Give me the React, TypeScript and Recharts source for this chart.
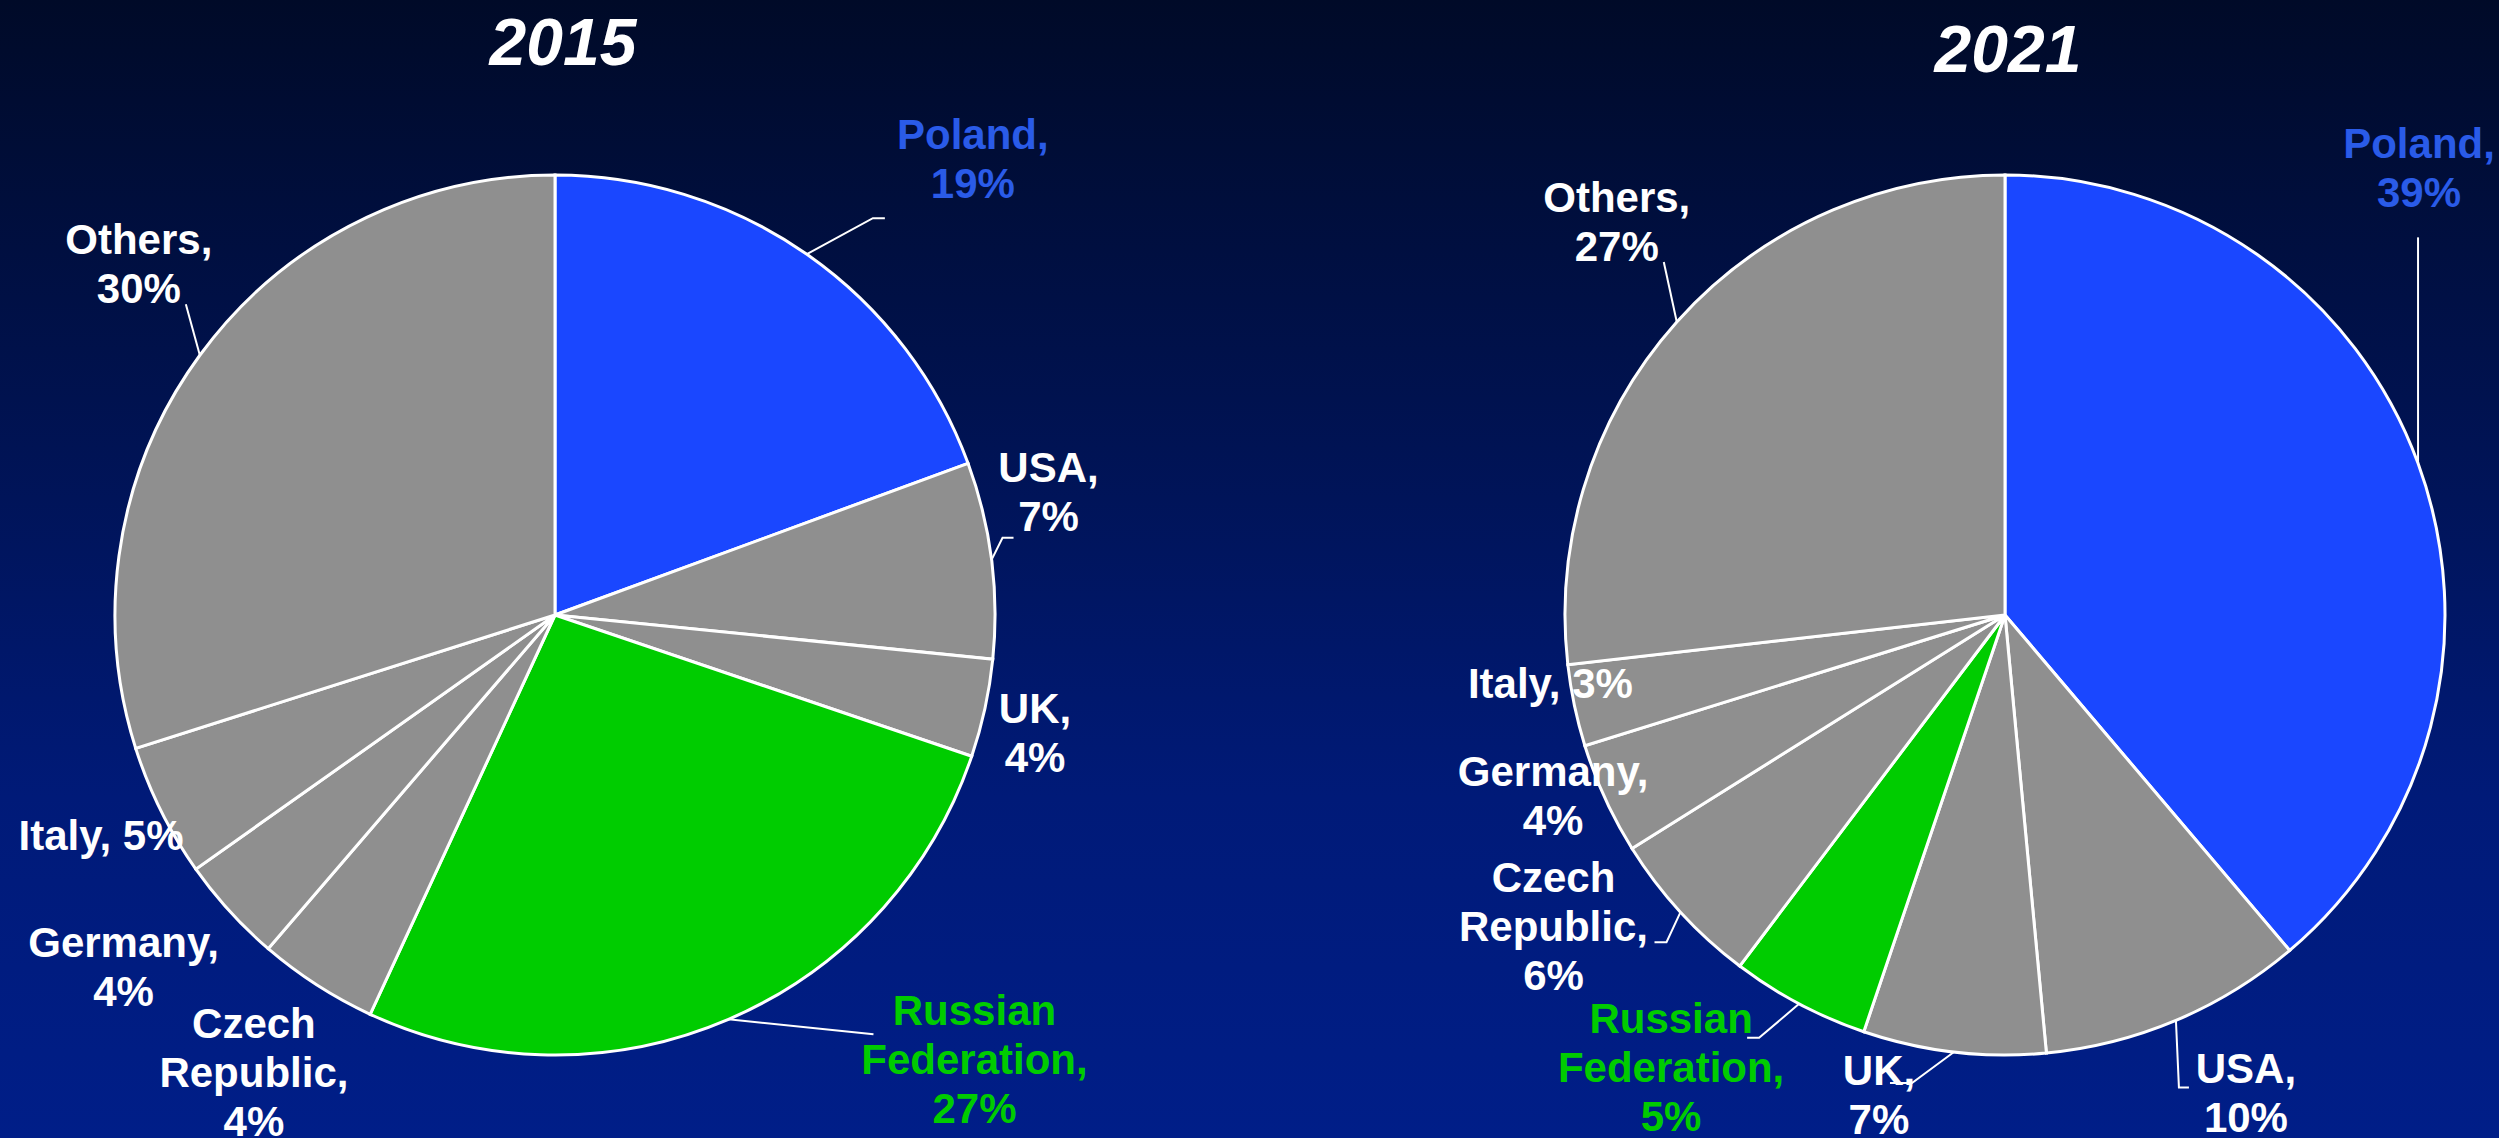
import React from "react";
import { PieChart, Pie, Cell } from "recharts";

const categories = ["Poland", "USA", "UK", "Russian Federation", "Czech Republic", "Germany", "Italy", "Others"];
const values2015 = [19.4, 7.2, 3.6, 26.7, 4.4, 3.9, 4.9, 29.9];
const values2021 = [38.8, 9.7, 6.7, 5.1, 5.8, 4.1, 3.0, 26.8];
const years = ["2015", "2021"];

const sliceColors = ["#1a47ff", "#8f8f8f", "#8f8f8f", "#00cc00", "#8f8f8f", "#8f8f8f", "#8f8f8f", "#8f8f8f"];
const labelColors = ["#2a5be8", "#ffffff", "#ffffff", "#00cc00", "#ffffff", "#ffffff", "#ffffff", "#ffffff"];

// label layout: offset of label (center x, first baseline) from slice edge point at mid-angle,
// words per line, and leader line points relative to edge point
type LabelLayout = { dx: number; dy: number; perLine: number[]; leader?: [number, number][] };

const layout2015: LabelLayout[] = [
  { dx: 166, dy: -105, perLine: [1, 1], leader: [[66, -36], [78, -36]] },
  { dx: 57, dy: -78, perLine: [1, 1], leader: [[11, -22], [22, -22]] },
  { dx: 50, dy: 15, perLine: [1, 1] },
  { dx: 246, dy: 6, perLine: [1, 1, 1], leader: [[145, 15]] },
  { dx: -63, dy: 53, perLine: [1, 1, 1] },
  { dx: -106, dy: 46, perLine: [1, 1] },
  { dx: -60, dy: 39, perLine: [2] },
  { dx: -61, dy: -101, perLine: [1, 1], leader: [[-14, -51]] },
];

const layout2021: LabelLayout[] = [
  { dx: 1, dy: -305, perLine: [1, 1], leader: [[0, -226]] },
  { dx: 70, dy: 63, perLine: [1, 1], leader: [[3, 67], [13, 67]] },
  { dx: -75, dy: 33, perLine: [1, 1], leader: [[-42, 31], [-64, 31]] },
  { dx: -128, dy: 29, perLine: [1, 1, 1], leader: [[-40, 34], [-52, 34]] },
  { dx: -127, dy: -20, perLine: [1, 1, 1], leader: [[-14, 30], [-26, 30]] },
  { dx: -52, dy: -13, perLine: [1, 1] },
  { dx: -24, dy: -8, perLine: [2] },
  { dx: -60, dy: -110, perLine: [1, 1], leader: [[-13, -60]] },
];

const FONT = "'Liberation Sans', Arial, sans-serif";
const LINE_H = 49;

const buildData = (values: number[]) =>
  categories.map((name, i) => ({ name, value: values[i] }));

const makeLabel = (layout: LabelLayout[]) => (props: any) => {
  const { cx, cy, midAngle, outerRadius, index, name, value } = props;
  const RAD = Math.PI / 180;
  const ex = cx + outerRadius * Math.cos(-midAngle * RAD);
  const ey = cy + outerRadius * Math.sin(-midAngle * RAD);
  const L = layout[index];
  const words = `${name}, ${Math.round(value)}%`.split(" ");
  const lines: string[] = [];
  let k = 0;
  L.perLine.forEach((n) => {
    lines.push(words.slice(k, k + n).join(" "));
    k += n;
  });
  const lx = ex + L.dx;
  const ly = ey + L.dy;
  const pts = L.leader ? [[0, 0], ...L.leader].map(([a, b]) => `${ex + a},${ey + b}`).join(" ") : null;
  return (
    <g key={`lbl-${index}`}>
      {pts && <polyline points={pts} fill="none" stroke="#ffffff" strokeWidth={2} />}
      {lines.map((t, j) => (
        <text
          key={j}
          x={lx}
          y={ly + j * LINE_H}
          textAnchor="middle"
          fontFamily={FONT}
          fontWeight="bold"
          fontSize={42}
          fill={labelColors[index]}
        >
          {t}
        </text>
      ))}
    </g>
  );
};

export default function App() {
  return (
    <div
      style={{
        position: "absolute",
        left: 0,
        top: 0,
        width: 2499,
        height: 1138,
        overflow: "hidden",
        background: "linear-gradient(to bottom, #000a28 0%, #00124f 35%, #001a78 70%, #001e88 100%)",
      }}
    >
      <PieChart width={2499} height={1138} margin={{ top: 0, right: 0, bottom: 0, left: 0 }}>
        <Pie
          data={buildData(values2015)}
          dataKey="value"
          nameKey="name"
          cx={555}
          cy={615}
          outerRadius={440}
          startAngle={90}
          endAngle={-270}
          stroke="#ffffff"
          strokeWidth={3}
          labelLine={false}
          label={makeLabel(layout2015)}
          isAnimationActive={false}
        >
          {categories.map((c, i) => (
            <Cell key={c} fill={sliceColors[i]} />
          ))}
        </Pie>
        <Pie
          data={buildData(values2021)}
          dataKey="value"
          nameKey="name"
          cx={2005}
          cy={615}
          outerRadius={440}
          startAngle={90}
          endAngle={-270}
          stroke="#ffffff"
          strokeWidth={3}
          labelLine={false}
          label={makeLabel(layout2021)}
          isAnimationActive={false}
        >
          {categories.map((c, i) => (
            <Cell key={c} fill={sliceColors[i]} />
          ))}
        </Pie>
      </PieChart>
      <svg
        width={2499}
        height={120}
        style={{ position: "absolute", left: 0, top: 0, pointerEvents: "none" }}
      >
        <text x={563} y={65} textAnchor="middle" fontFamily={FONT} fontWeight="bold" fontStyle="italic" fontSize={66} fill="#ffffff">
          {years[0]}
        </text>
        <text x={2008} y={72} textAnchor="middle" fontFamily={FONT} fontWeight="bold" fontStyle="italic" fontSize={66} fill="#ffffff">
          {years[1]}
        </text>
      </svg>
    </div>
  );
}
